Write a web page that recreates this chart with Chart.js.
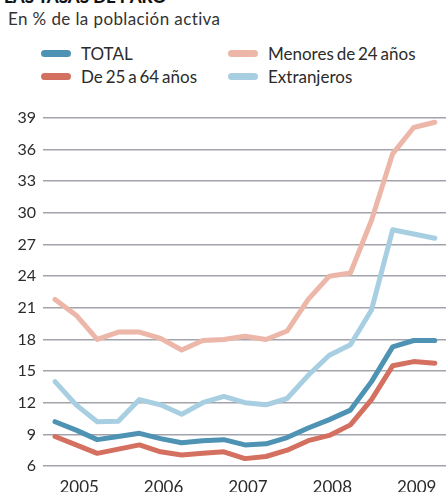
<!DOCTYPE html>
<html>
<head>
<meta charset="utf-8">
<script src="https://cdn.jsdelivr.net/npm/chart.js@4"></script>
<style>
  html, body { margin: 0; padding: 0; background: #fff; }
  body { width: 446px; height: 492px; position: relative; overflow: hidden; font-family: Lato, "Noto Sans", sans-serif; color: #2b2b2b; }
  #wrap { position: absolute; left: 0; top: 0; width: 446px; height: 492px; }
  .title { position: absolute; left: 4px; top: -14px; font-weight: 900; font-size: 17px; color: #111; white-space: nowrap; }
  .sub { position: absolute; left: 8px; top: 8px; font-size: 17px; letter-spacing: 0.4px; white-space: nowrap; color: #333; }
  .leg { position: absolute; font-size: 17px; word-spacing: -1.5px; white-space: nowrap; color: #2b2b2b; display: flex; align-items: center; }
  .sw { display: inline-block; width: 30px; height: 7px; border-radius: 4px; margin-right: 10px; }
</style>
</head>
<body>
<div class="title">LAS TASAS DE PARO</div>
<div class="sub">En % de la población activa</div>
<div class="leg" style="left:41px; top:43px;"><span class="sw" style="background:#4e93b4"></span>TOTAL</div>
<div class="leg" style="left:41px; top:66px;"><span class="sw" style="background:#d4705f"></span>De 25 a 64 años</div>
<div class="leg" style="left:228px; top:43px;"><span class="sw" style="background:#ecb6a8"></span>Menores de 24 años</div>
<div class="leg" style="left:228px; top:66px;"><span class="sw" style="background:#a8cfe1"></span>Extranjeros</div>
<div id="wrap"><canvas id="c" width="446" height="492"></canvas></div>
<script>
const quarters = ['2005-I','2005-II','2005-III','2005-IV',
                  '2006-I','2006-II','2006-III','2006-IV',
                  '2007-I','2007-II','2007-III','2007-IV',
                  '2008-I','2008-II','2008-III','2008-IV',
                  '2009-I','2009-II','2009-III'];
const total      = [10.2, 9.4, 8.5, 8.8, 9.1, 8.6, 8.2, 8.4, 8.5, 8.0, 8.1, 8.7, 9.6, 10.4, 11.3, 14.0, 17.3, 17.9, 17.9];
const de25a64    = [8.8, 8.0, 7.2, 7.6, 8.0, 7.35, 7.05, 7.2, 7.35, 6.7, 6.9, 7.5, 8.4, 8.9, 9.9, 12.3, 15.5, 15.9, 15.75];
const menores24  = [21.8, 20.3, 18.0, 18.7, 18.7, 18.1, 17.0, 17.9, 18.0, 18.3, 18.0, 18.8, 21.8, 24.0, 24.3, 29.3, 35.6, 38.1, 38.6];
const extranjeros= [14.0, 11.8, 10.2, 10.25, 12.3, 11.8, 10.9, 12.0, 12.6, 12.0, 11.8, 12.4, 14.6, 16.5, 17.5, 20.8, 28.4, 28.0, 27.6];
const yTicks = [6, 9, 12, 15, 18, 21, 24, 27, 30, 33, 36, 39];

function pts(arr) { return arr.map((v, i) => ({ x: i, y: v })); }
function ds(label, arr, color) {
  return { label, data: pts(arr), borderColor: color, backgroundColor: color, borderWidth: 5,
           pointRadius: 0, tension: 0, borderJoinStyle: 'round', borderCapStyle: 'round', fill: false };
}

new Chart(document.getElementById('c'), {
  type: 'line',
  data: {
    datasets: [
      ds('Menores de 24 años', menores24, '#ecb6a8'),
      ds('Extranjeros', extranjeros, '#a8cfe1'),
      ds('De 25 a 64 años', de25a64, '#d4705f'),
      ds('TOTAL', total, '#4e93b4')
    ]
  },
  options: {
    responsive: false,
    animation: false,
    layout: { padding: { top: 118, left: 0, right: 0, bottom: 0 } },
    plugins: { legend: { display: false }, tooltip: { enabled: false } },
    scales: {
      x: {
        type: 'linear', min: -0.57, max: 18.53,
        grid: { display: false, drawTicks: false },
        border: { display: false },
        afterBuildTicks: (s) => {
          s.ticks = quarters.map((q, i) => ({ value: i, q })).filter(t => t.q.endsWith('-II')).map(t => ({ value: t.value }));
        },
        afterFit: (s) => { s.height = 26; },
        ticks: {
          padding: 11, labelOffset: 3, maxRotation: 0, autoSkip: false,
          color: '#2b2b2b', font: { family: 'Lato', size: 17 },
          callback: (v) => quarters[v] ? quarters[v].slice(0, 4) : ''
        }
      },
      y: {
        min: 6, max: 39,
        afterBuildTicks: (s) => { s.ticks = yTicks.map(v => ({ value: v })); },
        afterFit: (s) => { s.width = 43; },
        grid: { color: '#a3a3ab', lineWidth: 1.6, drawTicks: false },
        border: { display: false },
        ticks: { padding: 7, color: '#2b2b2b', font: { family: 'Lato', size: 16 } }
      }
    }
  }
});
</script>
</body>
</html>
